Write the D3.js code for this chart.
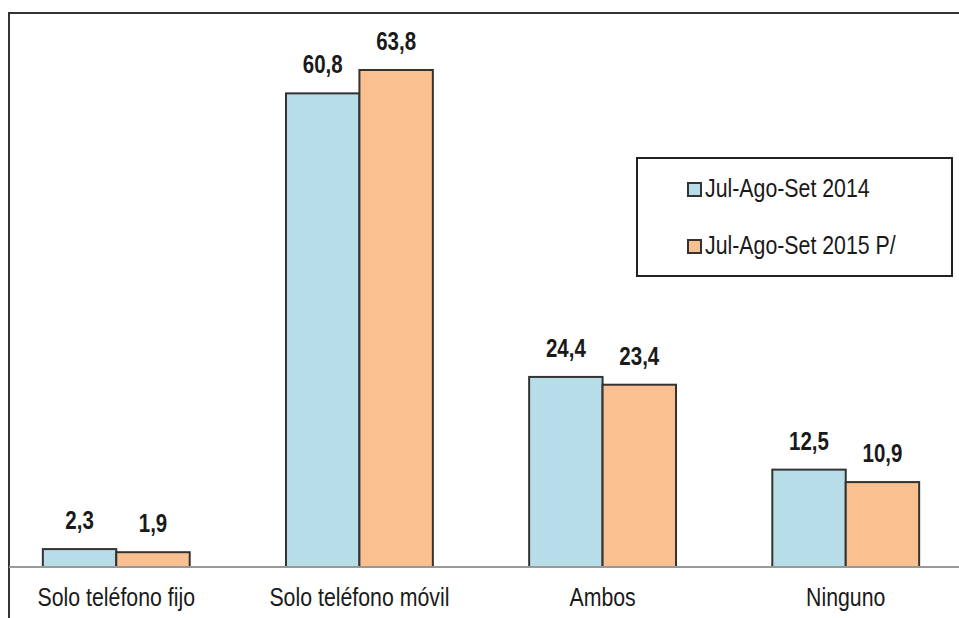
<!DOCTYPE html>
<html>
<head>
<meta charset="utf-8">
<script src="https://cdn.jsdelivr.net/npm/d3@7"></script>
<style>
  body { margin: 0; background: #fff; }
  svg { display: block; }
  text { font-family: "Liberation Sans", Arial, sans-serif; fill: #1a1a1a; }
</style>
</head>
<body>
<svg id="chart"></svg>
<script>
// data
const categories = ["Solo teléfono fijo", "Solo teléfono móvil", "Ambos", "Ninguno"];
const seriesNames = ["Jul-Ago-Set 2014", "Jul-Ago-Set 2015 P/"];
const values2014 = [2.3, 60.8, 24.4, 12.5];
const values2015 = [1.9, 63.8, 23.4, 10.9];
const colors = ["#b7dde8", "#fac090"];

const width = 959, height = 618;
const baseY = 567;
const narrow = 0.82; // the original uses a narrow face, squeeze Liberation Sans

const svg = d3.select("#chart").attr("width", width).attr("height", height);

const x = d3.scaleBand()
  .domain(categories)
  .range([1.5, width + 1.5])
  .paddingInner(0.396)
  .paddingOuter(0.17);

const xInner = d3.scaleBand()
  .domain(seriesNames)
  .range([0, x.bandwidth()]);

const y = d3.scaleLinear()
  .domain([0, 70])
  .range([baseY, baseY - 70 * 7.79]);

const rows = categories.map((c, i) => ({
  cat: c,
  vals: [values2014[i], values2015[i]]
}));

// frame (left + top only)
svg.append("path")
  .attr("d", `M9,${height} V13 H${width}`)
  .attr("fill", "none")
  .attr("stroke", "#333")
  .attr("stroke-width", 2);

const groups = svg.selectAll("g.grp")
  .data(rows)
  .enter()
  .append("g")
  .attr("class", "grp")
  .attr("transform", d => `translate(${x(d.cat)},0)`);

groups.selectAll("rect")
  .data(d => d.vals.map((v, k) => ({ v: v, s: seriesNames[k], k: k })))
  .enter()
  .append("rect")
  .attr("x", d => xInner(d.s))
  .attr("y", d => y(d.v))
  .attr("width", xInner.bandwidth())
  .attr("height", d => baseY - y(d.v))
  .attr("fill", d => colors[d.k])
  .attr("stroke", "#333")
  .attr("stroke-width", 2);

// value labels
groups.selectAll("text.val")
  .data(d => d.vals.map((v, k) => ({ v: v, s: seriesNames[k] })))
  .enter()
  .append("text")
  .attr("class", "val")
  .attr("transform", d => `translate(${xInner(d.s) + xInner.bandwidth() / 2},${y(d.v) - 20}) scale(${narrow},1)`)
  .attr("text-anchor", "middle")
  .style("font-size", "25px")
  .style("font-weight", "bold")
  .text(d => d3.format(".1f")(d.v).replace(".", ","));

// baseline
svg.append("line")
  .attr("x1", 9).attr("x2", width)
  .attr("y1", baseY).attr("y2", baseY)
  .attr("stroke", "#999")
  .attr("stroke-width", 2);

// category labels
svg.selectAll("text.cat")
  .data(categories)
  .enter()
  .append("text")
  .attr("class", "cat")
  .attr("transform", d => `translate(${x(d) + x.bandwidth() / 2},606) scale(${narrow},1)`)
  .attr("text-anchor", "middle")
  .style("font-size", "26px")
  .text(d => d);

// legend
const legend = svg.append("g").attr("transform", "translate(637,158)");
legend.append("rect")
  .attr("width", 315).attr("height", 118)
  .attr("fill", "#fff")
  .attr("stroke", "#222")
  .attr("stroke-width", 2);

const items = legend.selectAll("g.item")
  .data(seriesNames)
  .enter()
  .append("g")
  .attr("class", "item")
  .attr("transform", (d, i) => `translate(51,${25 + i * 57})`);

items.append("rect")
  .attr("width", 13).attr("height", 13)
  .attr("fill", (d, i) => colors[i])
  .attr("stroke", "#333")
  .attr("stroke-width", 2);

items.append("text")
  .attr("transform", `translate(17,14) scale(${narrow},1)`)
  .style("font-size", "26px")
  .text(d => d);
</script>
</body>
</html>
